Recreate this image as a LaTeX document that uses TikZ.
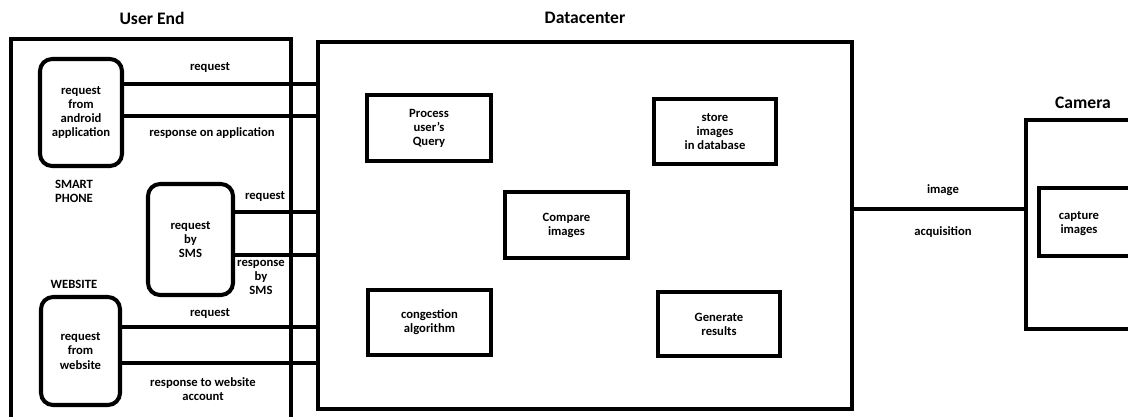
\documentclass[tikz,border=0pt]{standalone}
\usepackage{fontspec}
\setmainfont{Carlito}

\begin{document}
\begin{tikzpicture}[x=0.02cm,y=-0.02cm,line width=2.3pt,font=\fontsize{7.2}{8}\selectfont\bfseries,
    blk/.style={draw,rectangle,align=center,inner sep=0pt},
    rblk/.style={blk,rounded corners=0.24cm},
    ttl/.style={font=\fontsize{10}{12}\selectfont\bfseries},
    lbl/.style={align=center,inner sep=0pt}]
                \useasboundingbox (0,0) rectangle (1128,416);
                \clip (0,0) rectangle (1128,416);
                % titles
                \node[ttl] (tUser) at (152,18) {User End};
                \node[ttl] (tData) at (585,18) {Datacenter};
                \node[ttl] (tCam) at (1083,103) {Camera};
                % user end
                \draw (11,430)--(11,39)--(291,39)--(291,430);
                \node[rblk,minimum width=1.64cm,minimum height=2.14cm] (android) at (81,112.5) {request\\from\\android\\application};
                \node[rblk,minimum width=1.70cm,minimum height=2.22cm] (sms) at (190.5,239.5) {request\\by\\SMS};
                \node[rblk,minimum width=1.58cm,minimum height=2.16cm] (web) at (80.5,351) {request\\from\\website};
                \node[lbl] (phone) at (74,191) {SMART\\PHONE};
                \node[lbl] (site) at (74,284) {WEBSITE};
                % datacenter
                \node[blk,minimum width=10.68cm,minimum height=7.34cm] (dc) at (585,225.5) {};
                \node[blk,minimum width=2.48cm,minimum height=1.32cm] (proc) at (429,128) {Process\\user's\\Query};
                \node[blk,minimum width=2.44cm,minimum height=1.30cm] (store) at (715,131.5) {store\\images\\in database};
                \node[blk,minimum width=2.46cm,minimum height=1.32cm] (cmp) at (566.5,225) {Compare\\images};
                \node[blk,minimum width=2.46cm,minimum height=1.30cm] (cong) at (429.5,322.5) {congestion\\algorithm};
                \node[blk,minimum width=2.44cm,minimum height=1.28cm] (gen) at (719,324) {Generate\\results};
                % camera
                \draw (1140,120)--(1026,120)--(1026,329)--(1140,329);
                \draw (1140,188)--(1039,188)--(1039,256)--(1140,256);
                \node[lbl] (capt) at (1079,224) {capture\\images};
                \coordinate (cam) at (1026,209);
                % links
                \draw (android.east |- 0,84) -- (dc.west |- 0,84);
                \draw (android.east |- 0,116) -- (dc.west |- 0,116);
                \draw (sms.east |- 0,212) -- (dc.west |- 0,212);
                \draw (sms.east |- 0,255) -- (dc.west |- 0,255);
                \draw (web.east |- 0,327) -- (dc.west |- 0,327);
                \draw (web.east |- 0,363) -- (dc.west |- 0,363);
                \draw (dc.east |- cam) -- (cam);
                \node[lbl] (l1) at (210,68) {request};
                \node[lbl] (l2) at (212,133) {response on application};
                \node[lbl] (l3) at (265,196) {request};
                \node[lbl] (l4) at (261,277) {response\\by\\SMS};
                \node[lbl] (l5) at (210,313) {request};
                \node[lbl] (l6) at (203,389) {response to website\\account};
                \node[lbl] (l7) at (943,190) {image};
                \node[lbl] (l8) at (943,232) {acquisition};
            \end{tikzpicture}
\end{document}
